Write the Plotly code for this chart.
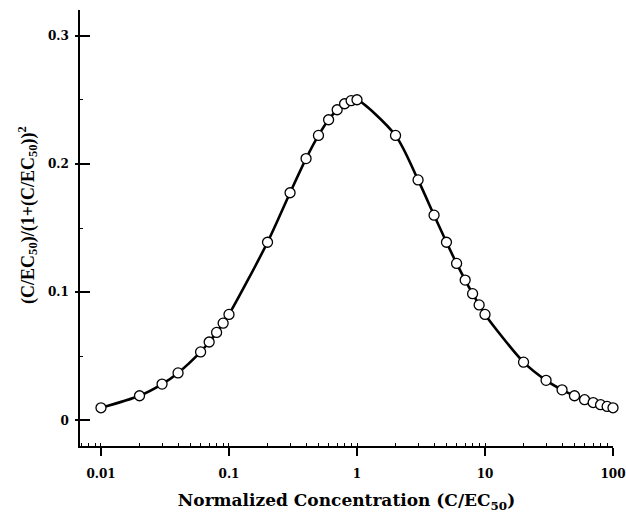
import plotly.graph_objects as go

# Normalized concentration C/EC50
conc = [0.01, 0.02, 0.03, 0.04, 0.06, 0.07, 0.08, 0.09, 0.1,
        0.2, 0.3, 0.4, 0.5, 0.6, 0.7, 0.8, 0.9, 1,
        2, 3, 4, 5, 6, 7, 8, 9, 10,
        20, 30, 40, 50, 60, 70, 80, 90, 100]
# (C/EC50)/(1+(C/EC50))^2
resp = [0.0098, 0.0192, 0.0283, 0.0370, 0.0534, 0.0611, 0.0686, 0.0758, 0.0826,
        0.1389, 0.1775, 0.2041, 0.2222, 0.2344, 0.2422, 0.2469, 0.2493, 0.2500,
        0.2222, 0.1875, 0.1600, 0.1389, 0.1224, 0.1094, 0.0988, 0.0900, 0.0826,
        0.0454, 0.0312, 0.0238, 0.0192, 0.0161, 0.0139, 0.0122, 0.0109, 0.0098]

x_ticks = [0.01, 0.1, 1, 10, 100]
x_tick_text = ["0.01", "0.1", "1", "10", "100"]
x_minor = [m * 10.0 ** e for e in range(-3, 2) for m in range(2, 10)]
y_ticks = [0, 0.1, 0.2, 0.3]
y_tick_text = ["0", "0.1", "0.2", "0.3"]

FONT = "DejaVu Serif"
YFONT = "Liberation Serif"
xr = [-2.164, 2.0]
yr = [-0.02, 0.32]

fig = go.Figure()
fig.add_trace(go.Scatter(
    x=conc, y=resp, mode="lines+markers",
    line=dict(color="black", width=2.6, shape="spline", smoothing=0.8),
    marker=dict(symbol="circle", size=10, color="white",
                line=dict(color="black", width=1.3)),
    showlegend=False, cliponaxis=False,
))
# invisible trace to anchor overlay axes
fig.add_trace(go.Scatter(x=[1], y=[0.1], xaxis="x2", yaxis="y2",
                         mode="markers", marker=dict(opacity=0),
                         showlegend=False, hoverinfo="skip"))

fig.update_layout(
    width=626, height=514,
    margin=dict(l=80, r=13, t=10, b=68),
    paper_bgcolor="white", plot_bgcolor="white",
    font=dict(family=FONT, color="black"),
    xaxis=dict(
        type="log", range=xr, tickvals=x_ticks, ticktext=x_tick_text,
        ticks="outside", ticklen=8, tickwidth=1.5, tickcolor="black",
        showline=True, linecolor="black", linewidth=1.5,
        showgrid=False, zeroline=False, automargin=False,
        tickfont=dict(family=FONT, size=12, weight="bold"),
        ticklabelstandoff=8,
        title=dict(text="Normalized Concentration (C/EC<sub>50</sub>)",
                   font=dict(family=FONT, size=17, weight="bold"), standoff=14),
    ),
    yaxis=dict(
        range=yr, tickvals=y_ticks, ticktext=y_tick_text,
        ticks="inside", ticklen=10, tickwidth=1.5, tickcolor="black",
        showline=True, linecolor="black", linewidth=1.5,
        showgrid=False, zeroline=False, automargin=False,
        tickfont=dict(family=FONT, size=12, weight="bold"),
        ticklabelstandoff=7,
        minor=dict(ticks="inside", ticklen=3, tickwidth=1, tickcolor="black",
                   dtick=0.05, showgrid=False),
    ),
    xaxis2=dict(type="log", range=xr, overlaying="x", tickvals=x_minor + x_ticks,
                ticks="inside", ticklen=3, tickwidth=1, tickcolor="black",
                showticklabels=False, showgrid=False, zeroline=False,
                showline=False, automargin=False),
    yaxis2=dict(range=yr, overlaying="y", tickvals=y_ticks,
                ticks="outside", ticklen=4, tickwidth=1.5, tickcolor="black",
                showticklabels=False, showgrid=False, zeroline=False,
                showline=False, automargin=False),
    annotations=[dict(
        text="(C/EC<sub>50</sub>)/(1+(C/EC<sub>50</sub>))<sup>2</sup>",
        xref="paper", yref="paper", x=0, y=0.53, xshift=-52,
        xanchor="center", yanchor="middle", textangle=-90, showarrow=False,
        font=dict(family=YFONT, size=18, weight="bold", color="black"),
    )],
)

fig.write_html("out.html", config={"displayModeBar": False},
               post_script="document.body.style.margin='0';")
